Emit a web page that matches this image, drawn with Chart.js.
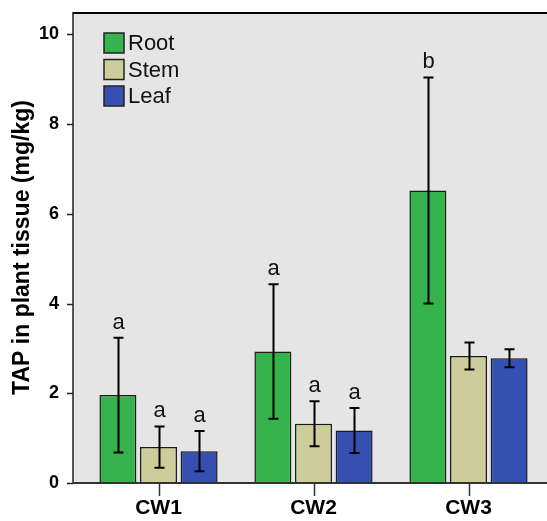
<!DOCTYPE html>
<html>
<head>
<meta charset="utf-8">
<script src="https://cdn.jsdelivr.net/npm/chart.js@4"></script>
<style>
  html, body { margin: 0; padding: 0; background: #fff; }
  #wrap { width: 547px; height: 521px; }
</style>
</head>
<body>
<div id="wrap"><canvas id="tapChart" width="547" height="521"></canvas></div>
<script>
const categories = ["CW1", "CW2", "CW3"];
const rootMeans = [1.96, 2.93, 6.52];
const rootErr = [1.28, 1.50, 2.52];
const stemMeans = [0.80, 1.32, 2.83];
const stemErr = [0.46, 0.50, 0.30];
const leafMeans = [0.71, 1.17, 2.78];
const leafErr = [0.45, 0.50, 0.20];
const rootLetters = ["a", "a", "b"];
const stemLetters = ["a", "a", ""];
const leafLetters = ["a", "a", ""];
const yTickValues = [0, 2, 4, 6, 8, 10];

const FONT = "'Liberation Sans', Arial, Helvetica, sans-serif";
const AXIS_X = 73;

const errors = [rootErr, stemErr, leafErr];
const letters = [rootLetters, stemLetters, leafLetters];

const decorPlugin = {
    id: "decor",
    beforeDraw(chart) {
        const ctx = chart.ctx;
        const a = chart.chartArea;
        ctx.save();
        ctx.fillStyle = "#e5e5e5";
        ctx.fillRect(AXIS_X, a.top, chart.width - AXIS_X, a.bottom - a.top);
        ctx.restore();
    },
    afterDatasetsDraw(chart) {
        const ctx = chart.ctx;
        const y = chart.scales.y;
        ctx.save();
        chart.data.datasets.forEach((ds, di) => {
            const meta = chart.getDatasetMeta(di);
            meta.data.forEach((bar, i) => {
                const hi = y.getPixelForValue(ds.data[i] + errors[di][i]);
                const lo = y.getPixelForValue(ds.data[i] - errors[di][i]);
                const x = Math.round(bar.x) + 0.5;
                ctx.strokeStyle = "#000";
                ctx.lineWidth = 2;
                ctx.beginPath();
                ctx.moveTo(x, hi); ctx.lineTo(x, lo);
                ctx.moveTo(x - 5, hi); ctx.lineTo(x + 5, hi);
                ctx.moveTo(x - 5, lo); ctx.lineTo(x + 5, lo);
                ctx.stroke();
                const t = letters[di][i];
                if (t) {
                    ctx.fillStyle = "#111";
                    ctx.font = "22px " + FONT;
                    ctx.textAlign = "center";
                    ctx.textBaseline = "alphabetic";
                    ctx.fillText(t, x, hi - 9);
                }
            });
        });
        ctx.restore();
    },
    afterDraw(chart) {
        const ctx = chart.ctx;
        const a = chart.chartArea;
        const y = chart.scales.y;
        const x = chart.scales.x;
        ctx.save();
        // top border
        ctx.strokeStyle = "#000";
        ctx.lineWidth = 2;
        ctx.beginPath();
        ctx.moveTo(AXIS_X, a.top + 1); ctx.lineTo(chart.width, a.top + 1);
        ctx.stroke();
        // left axis and ticks
        ctx.strokeStyle = "#222";
        ctx.lineWidth = 1.5;
        ctx.beginPath();
        ctx.moveTo(AXIS_X, a.top); ctx.lineTo(AXIS_X, a.bottom);
        yTickValues.forEach(v => {
            const py = Math.round(y.getPixelForValue(v)) + 0.5;
            ctx.moveTo(AXIS_X - 6, py); ctx.lineTo(AXIS_X, py);
        });
        ctx.stroke();
        // baseline and category ticks
        ctx.strokeStyle = "#333";
        ctx.lineWidth = 2;
        ctx.beginPath();
        ctx.moveTo(AXIS_X, a.bottom); ctx.lineTo(chart.width, a.bottom);
        ctx.stroke();
        ctx.lineWidth = 1.5;
        ctx.beginPath();
        categories.forEach((c, i) => {
            const px = Math.round(x.getPixelForValue(i)) + 0.5;
            ctx.moveTo(px, a.bottom); ctx.lineTo(px, a.bottom + 13);
        });
        ctx.stroke();
        // y title
        ctx.fillStyle = "#000";
        ctx.font = "bold 23px " + FONT;
        ctx.textAlign = "center";
        ctx.textBaseline = "middle";
        ctx.translate(23, 247.5);
        ctx.rotate(-Math.PI / 2);
        ctx.fillText("TAP in plant tissue (mg/kg)", 0, 0);
        ctx.restore();
        // legend
        ctx.save();
        chart.data.datasets.forEach((ds, i) => {
            const top = 33 + i * 26.5;
            ctx.fillStyle = ds.backgroundColor;
            ctx.fillRect(104, top, 20, 20);
            ctx.strokeStyle = "#222";
            ctx.lineWidth = 1.5;
            ctx.strokeRect(104, top, 20, 20);
            ctx.fillStyle = "#111";
            ctx.font = "22px " + FONT;
            ctx.textAlign = "left";
            ctx.textBaseline = "middle";
            ctx.fillText(ds.label, 128, top + 11);
        });
        ctx.restore();
    }
};

new Chart(document.getElementById("tapChart"), {
    type: "bar",
    data: {
        labels: categories,
        datasets: [
            { label: "Root", data: rootMeans, backgroundColor: "#36b34c" },
            { label: "Stem", data: stemMeans, backgroundColor: "#cdcd9b" },
            { label: "Leaf", data: leafMeans, backgroundColor: "#3550b1" }
        ]
    },
    options: {
        responsive: false,
        devicePixelRatio: 1,
        animation: false,
        layout: { padding: { top: 12, right: 1, left: 0, bottom: 0 } },
        datasets: {
            bar: {
                categoryPercentage: 0.786,
                barPercentage: 0.91,
                borderColor: "#1a1a1a",
                borderWidth: 1.5
            }
        },
        plugins: { legend: { display: false }, tooltip: { enabled: false } },
        scales: {
            x: {
                grid: { display: false, drawTicks: false },
                border: { display: false },
                ticks: { color: "#000", font: { family: FONT, size: 21, weight: "bold" }, padding: 13 },
                afterFit(scale) {
                    scale.height = 38;
                    scale.paddingLeft = 0;
                    scale.paddingRight = 0;
                }
            },
            y: {
                min: 0,
                max: 10.5,
                grid: { display: false, drawTicks: false },
                border: { display: false },
                afterBuildTicks(scale) {
                    scale.ticks = yTickValues.map(v => ({ value: v }));
                },
                ticks: {
                    color: "#000",
                    font: { family: FONT, size: 18, weight: "bold" },
                    padding: 22
                },
                afterFit(scale) {
                    scale.width = 81;
                    scale.paddingTop = 0;
                    scale.paddingBottom = 0;
                }
            }
        }
    },
    plugins: [decorPlugin]
});
</script>
</body>
</html>
